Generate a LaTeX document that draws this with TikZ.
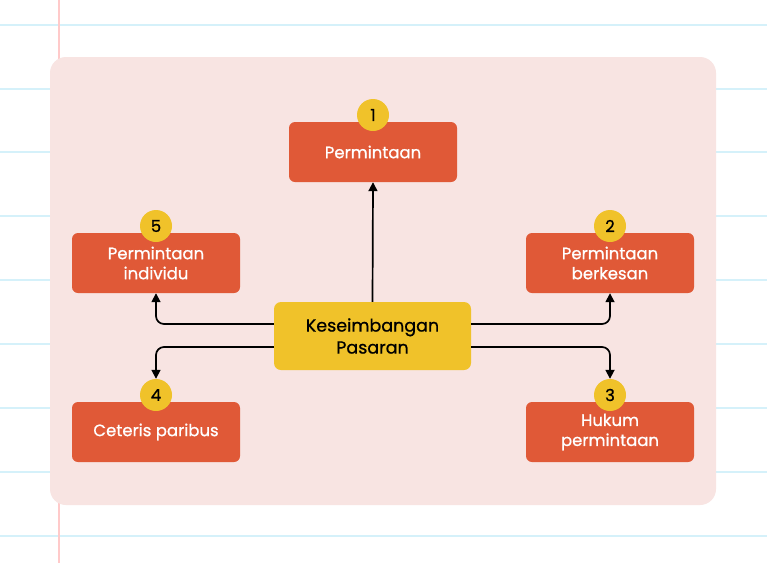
\documentclass[tikz,border=0pt]{standalone}
\usepackage{fontspec}
\setmainfont{Poppins}
\newfontfamily\medfont{Poppins}[RawFeature={embolden=0.8}]
\usetikzlibrary{arrows.meta}

\definecolor{boxorange}{HTML}{E05937}
\definecolor{hubyellow}{HTML}{F0C22A}
\definecolor{panelpink}{HTML}{F8E4E2}
\definecolor{paperline}{HTML}{D5F1FA}
\definecolor{marginline}{HTML}{FFCACA}

\tikzset{
  topic/.style={rectangle, rounded corners=6pt, fill=boxorange, text=white,
    minimum width=168pt, minimum height=60pt, align=center,
    font=\medfont\fontsize{16.5}{20}\selectfont},
  hub/.style={rectangle, rounded corners=7pt, fill=hubyellow, text=black,
    minimum width=197pt, minimum height=68pt, align=center,
    font=\medfont\fontsize{17.5}{22}\selectfont},
  badge/.style={circle, fill=hubyellow, text=black, minimum size=32pt,
    inner sep=0pt, font=\medfont\fontsize{16.5}{16}\selectfont},
  link/.style={-{Triangle[length=9pt,width=9pt]}, line width=1.7pt,
    rounded corners=8pt}
}

\begin{document}
\begin{tikzpicture}[x=1pt, y=-1pt]
\useasboundingbox (0,0) rectangle (767,563);
\fill [white] (0,0) rectangle (767,563);

% paper lines
\foreach \ly in {25,89,152,216,280,344,408,472,536}
  \draw [paperline, line width=2pt] (0,\ly) -- (767,\ly);
\draw [marginline, line width=2pt] (58.5,0) -- (58.5,563);

% panel
\fill [panelpink, rounded corners=16pt] (50,57) rectangle (716,505);

% nodes
\node [hub] (pasaran) at (372.5,336) {Keseimbangan\\Pasaran};
\node [topic] (permintaan) at (373,152) {Permintaan};
\node [topic] (berkesan) at (610,263) {Permintaan\\berkesan};
\node [topic] (hukum) at (610,432) {Hukum\\permintaan};
\node [topic] (ceteris) at (156,432) {Ceteris paribus};
\node [topic] (individu) at (156,263) {Permintaan\\individu};

\node [badge] (b1) at (373,115) {1};
\node [badge] (b2) at (610,226) {2};
\node [badge] (b3) at (610,395) {3};
\node [badge] (b4) at (156,395) {4};
\node [badge] (b5) at (156,226) {5};

% connectors
\draw [link] (pasaran.north) -- (permintaan.south);
\draw [link] ([yshift=12pt]pasaran.east) -| (berkesan.south);
\draw [link] ([yshift=-11pt]pasaran.east) -| (b3.north);
\draw [link] ([yshift=12pt]pasaran.west) -| (individu.south);
\draw [link] ([yshift=-11pt]pasaran.west) -| (b4.north);

\end{tikzpicture}
\end{document}
